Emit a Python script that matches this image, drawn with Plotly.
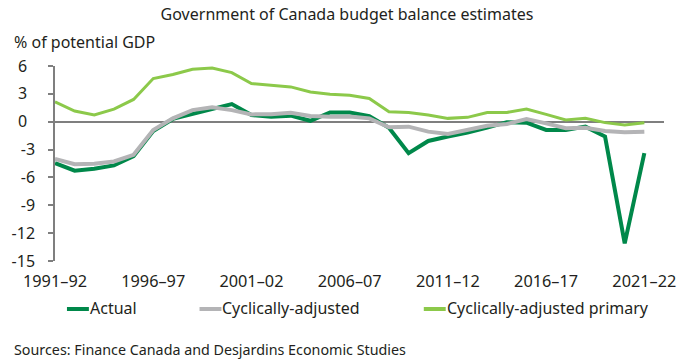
import plotly.graph_objects as go

# Fiscal years 1991-92 .. 2021-22
years = [f"{y}\u2013{str(y + 1)[-2:]}" for y in range(1991, 2022)]

actual = [-4.46, -5.28, -5.07, -4.71, -3.7, -1.0, 0.3, 0.82, 1.4, 1.9,
          0.72, 0.54, 0.65, 0.1, 1.0, 1.0, 0.61, -0.64, -3.39, -2.07,
          -1.6, -1.18, -0.64, -0.05, -0.1, -0.89, -0.89, -0.53, -1.6, -13.1,
          -3.39]
cyc_adjusted = [-4.0, -4.57, -4.53, -4.28, -3.57, -0.9, 0.36, 1.25, 1.55, 1.25,
                0.79, 0.8, 0.97, 0.61, 0.54, 0.57, 0.36, -0.6, -0.53, -1.07,
                -1.32, -0.89, -0.43, -0.25, 0.29, -0.18, -0.71, -0.64, -1.0, -1.14,
                -1.07]
cyc_adjusted_primary = [2.14, 1.15, 0.72, 1.36, 2.4, 4.65, 5.08, 5.65, 5.79, 5.29,
                        4.11, 3.93, 3.75, 3.2, 2.97, 2.85, 2.5, 1.07, 1.0, 0.72,
                        0.36, 0.47, 1.0, 1.0, 1.36, 0.79, 0.18, 0.36, -0.1, -0.35,
                        -0.1]

series = [
    ("Actual", actual, "#00884a", 4),
    ("Cyclically-adjusted", cyc_adjusted, "#b4b4b6", 4),
    ("Cyclically-adjusted primary", cyc_adjusted_primary, "#8cc94a", 3),
]

tick_idx = list(range(0, len(years), 5))
tick_text = [years[i] for i in tick_idx]
y_ticks = [6, 3, 0, -3, -6, -9, -12, -15]
# non-negative labels sit a little further left than the signed ones
y_text = [f"{v}\u2002" if v >= 0 else str(v) for v in y_ticks]

FONT = "Noto Sans"
TXT = "#231f20"
W, H = 694, 361
L, R, T, B = 53, 30, 66, 100
PW, PH = W - L - R, H - T - B


def px(xp):
    return (xp - L) / PW


def py(yp):
    return (H - B - yp) / PH


fig = go.Figure()
x = list(range(len(years)))
for name, vals, color, width in series:
    fig.add_trace(go.Scatter(
        x=x, y=vals, name=name, mode="lines",
        line=dict(color=color, width=width),
        showlegend=False,
    ))

# Legend row: short swatch followed by label
legend_items = [(65, "Actual"), (198, "Cyclically-adjusted"), (423, "Cyclically-adjusted primary")]
for (x0, label), (_, _, color, _) in zip(legend_items, series):
    fig.add_shape(type="line", xref="paper", yref="paper",
                  x0=px(x0), x1=px(x0 + 22), y0=py(309), y1=py(309),
                  line=dict(color=color, width=4))
    fig.add_annotation(text=label, xref="paper", yref="paper",
                       x=px(x0 + 21), y=py(308),
                       xanchor="left", yanchor="middle", showarrow=False,
                       font=dict(family=FONT, size=16, color=TXT))

fig.add_annotation(text="% of potential GDP", xref="paper", yref="paper",
                   x=px(10), y=py(42),
                   xanchor="left", yanchor="middle", showarrow=False,
                   font=dict(family=FONT, size=16, color=TXT))
fig.add_annotation(text="Sources: Finance Canada and Desjardins Economic Studies",
                   xref="paper", yref="paper",
                   x=px(10), y=py(349),
                   xanchor="left", yanchor="middle", showarrow=False,
                   font=dict(family=FONT, size=14.3, color=TXT))

fig.update_layout(
    width=W, height=H,
    margin=dict(l=L, r=R, t=T, b=B),
    paper_bgcolor="white", plot_bgcolor="white",
    font=dict(family=FONT, size=16, color=TXT),
    title=dict(text="Government of Canada budget balance estimates",
               x=0.5, xanchor="center", y=1 - 14.5 / H, yanchor="middle",
               font=dict(family=FONT, size=16, color=TXT)),
    xaxis=dict(range=[0, len(years)], tickmode="array", tickvals=tick_idx,
               ticktext=tick_text, showgrid=False, zeroline=False,
               showline=False, ticks="", ticklabelstandoff=9,
               tickfont=dict(family=FONT, size=16.3, color=TXT)),
    yaxis=dict(range=[-15, 6], tickmode="array", tickvals=y_ticks,
               ticktext=y_text,
               showgrid=False, zeroline=True, zerolinecolor="#7f7f7f",
               zerolinewidth=1.5, showline=True, linecolor="#7f7f7f",
               linewidth=1.5, ticks="outside", ticklen=5, tickcolor="#7f7f7f",
               tickwidth=1.5, ticklabelstandoff=10,
               tickfont=dict(family=FONT, size=16, color=TXT)),
)

fig.write_html("out.html")
